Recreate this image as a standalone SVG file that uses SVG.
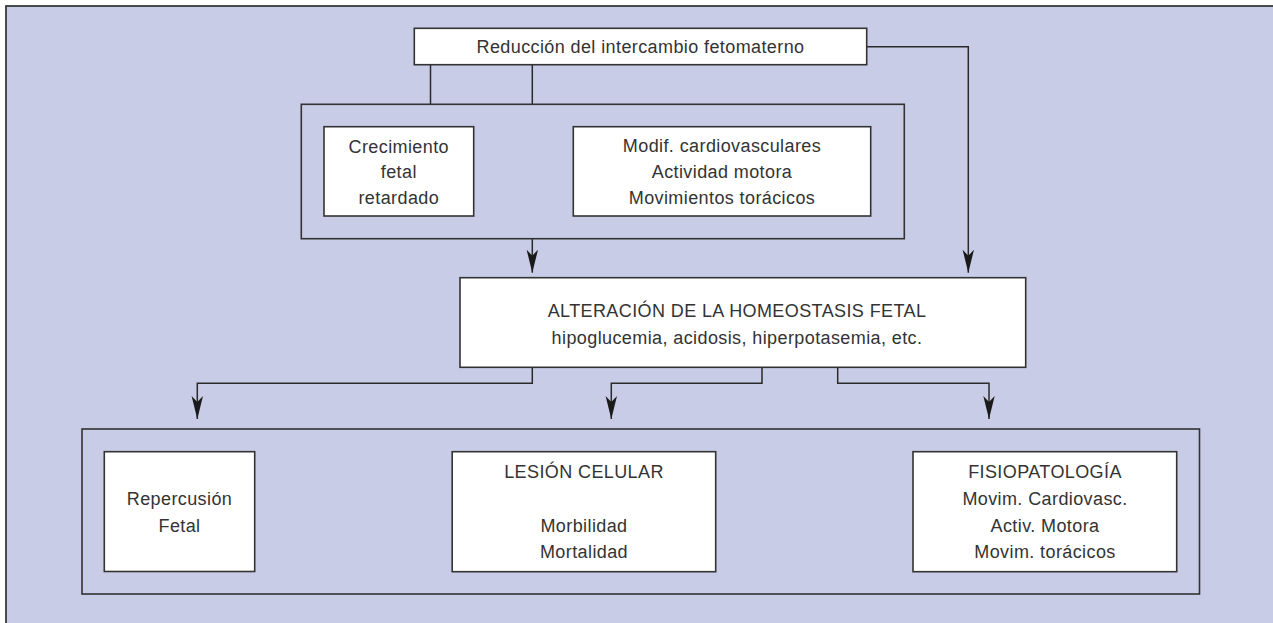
<svg xmlns="http://www.w3.org/2000/svg" width="1273" height="623" viewBox="0 0 1273 623">
  <defs>
    <style>
      .bg { fill: #c8cce6; stroke: #3a3a3a; stroke-width: 1.8; }
      .box { fill: #ffffff; stroke: #333333; stroke-width: 1.6; }
      .grp { fill: none; stroke: #333333; stroke-width: 1.6; }
      .conn { fill: none; stroke: #2a2a2a; stroke-width: 1.5; }
      text { font-family: "Liberation Sans", Arial, sans-serif; font-size: 18px; fill: #333333; text-anchor: middle; letter-spacing: 0.4px; }
    </style>
    <marker id="arr" markerWidth="24" markerHeight="12" refX="23" refY="6" orient="auto" markerUnits="userSpaceOnUse" viewBox="0 0 24 12">
      <path d="M0,0.3 L6,6 L0,11.7 L23,6 Z" fill="#1a1a1a"/>
    </marker>
  </defs>
  <rect x="0" y="0" width="1273" height="623" fill="#ffffff"/>
  <rect class="bg" x="6" y="6" width="1300" height="650"/>

  <g id="connectors">
    <path class="conn" d="M430.5,65 V104.3"/>
    <path class="conn" d="M532.3,65 V104.3"/>
    <path class="conn" d="M532.3,238.7 V272.7" marker-end="url(#arr)"/>
    <path class="conn" d="M866.7,46.7 H968.3 V272.7" marker-end="url(#arr)"/>
    <path class="conn" d="M532.3,367.3 V383.3 H197.3 V419" marker-end="url(#arr)"/>
    <path class="conn" d="M762,367.3 V383.3 H611.3 V419" marker-end="url(#arr)"/>
    <path class="conn" d="M837.7,367.3 V383.3 H989 V419" marker-end="url(#arr)"/>
  </g>

  <g id="n-reduccion">
    <rect class="box" x="414.3" y="28.3" width="452.4" height="36.4"/>
    <text x="640.5" y="53.3">Reducción del intercambio fetomaterno</text>
  </g>

  <g id="g-efectos">
    <rect class="grp" x="301.3" y="104.3" width="603" height="134.4"/>
  </g>

  <g id="n-crecimiento">
    <rect class="box" x="324" y="126.7" width="149.7" height="89.3"/>
    <text x="398.8" y="152.7">Crecimiento</text>
    <text x="398.8" y="178.3">fetal</text>
    <text x="398.8" y="204">retardado</text>
  </g>

  <g id="n-modif">
    <rect class="box" x="573.3" y="126.7" width="297.4" height="89.3"/>
    <text x="722" y="152.3">Modif. cardiovasculares</text>
    <text x="722" y="178">Actividad motora</text>
    <text x="722" y="204">Movimientos torácicos</text>
  </g>

  <g id="n-alteracion">
    <rect class="box" x="460" y="277.7" width="565.7" height="89.6"/>
    <text x="737" y="317">ALTERACIÓN DE LA HOMEOSTASIS FETAL</text>
    <text x="737" y="343.5">hipoglucemia, acidosis, hiperpotasemia, etc.</text>
  </g>

  <g id="g-consecuencias">
    <rect class="grp" x="82" y="429" width="1117.5" height="165"/>
  </g>

  <g id="n-repercusion">
    <rect class="box" x="104.3" y="451.7" width="150.4" height="119.8"/>
    <text x="179.5" y="505">Repercusión</text>
    <text x="179.5" y="531.7">Fetal</text>
  </g>

  <g id="n-lesion">
    <rect class="box" x="452.2" y="451.7" width="263.5" height="120"/>
    <text x="584" y="478">LESIÓN CELULAR</text>
    <text x="584" y="531.7">Morbilidad</text>
    <text x="584" y="558.3">Mortalidad</text>
  </g>

  <g id="n-fisio">
    <rect class="box" x="913" y="451.7" width="263.7" height="120"/>
    <text x="1045" y="478">FISIOPATOLOGÍA</text>
    <text x="1045" y="505">Movim. Cardiovasc.</text>
    <text x="1045" y="531.7">Activ. Motora</text>
    <text x="1045" y="558.3">Movim. torácicos</text>
  </g>
</svg>
